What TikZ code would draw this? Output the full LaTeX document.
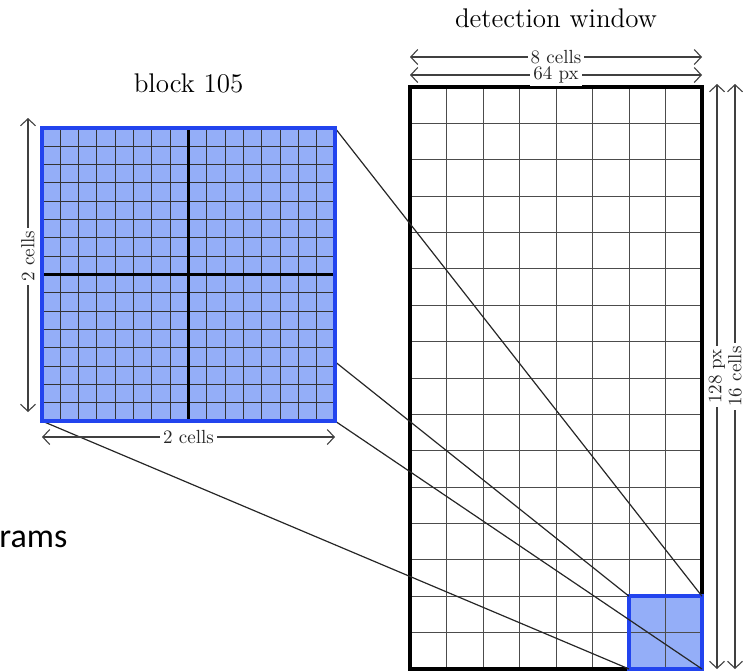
\documentclass[tikz,border=0pt]{standalone}
\usepackage{fontspec}
\newfontfamily\slidefont{Carlito}
\usetikzlibrary{arrows.meta,calc}
\definecolor{cellblue}{HTML}{94AEF8}
\definecolor{edgeblue}{HTML}{2244EE}
\begin{document}
\begin{tikzpicture}[x=0.5pt,y=-0.5pt,
  title/.style={font=\fontsize{13.5}{16}\selectfont},
  dimtext/.style={fill=white,text=black!85,inner sep=1.5pt,font=\fontsize{9.5}{11}\selectfont},
  dim/.style={{Straight Barb[length=3.5pt,width=7.5pt]}-{Straight Barb[length=3.5pt,width=7.5pt]},black!75,line width=0.55pt},
  area/.style={inner sep=0pt,outer sep=0pt},
  thingrid/.style={black!70,line width=0.5pt},
  fine/.style={black!80,line width=0.45pt},
  cross/.style={black,line width=1.3pt},
  blueedge/.style={edgeblue,line width=1.8pt},
  frame/.style={black,line width=1.8pt},
  zoomline/.style={black!85,line width=0.6pt}
]
\useasboundingbox (0,0) rectangle (744,671);

% the three areas
\node[area,minimum size=146.5pt] (block) at (188.5,274.5) {};
\node[area,minimum width=146pt,minimum height=291pt] (win) at (556,378) {};
\node[area,fill=cellblue,minimum width=36.5pt,minimum height=36.375pt] (sub) at (665.5,632.6) {};

% detection window cells
\foreach \i in {1,...,7}
  \draw[thingrid] ($(win.north west)+(\i*36.5,0)$) -- ($(win.south west)+(\i*36.5,0)$);
\foreach \j in {1,...,15}
  \draw[thingrid] ($(win.north west)+(0,\j*36.375)$) -- ($(win.north east)+(0,\j*36.375)$);
\draw[frame] (win.north west) rectangle (win.south east);
\draw[blueedge] (sub.north west) rectangle (sub.south east);

% zoom lines
\draw[zoomline] (block.north west) -- (sub.north west);
\draw[zoomline] (block.north east) -- (sub.north east);
\draw[zoomline] (block.south east) -- (sub.south east);
\draw[zoomline] (block.south west) -- (sub.south west);

% enlarged block
\fill[cellblue] (block.north west) rectangle (block.south east);
\foreach \k in {1,...,15} {
  \draw[fine] ($(block.north west)+(\k*18.3125,0)$) -- ($(block.south west)+(\k*18.3125,0)$);
  \draw[fine] ($(block.north west)+(0,\k*18.3125)$) -- ($(block.north east)+(0,\k*18.3125)$);
}
\draw[cross] (block.north) -- (block.south);
\draw[cross] (block.west) -- (block.east);
\draw[blueedge] (block.north west) rectangle (block.south east);

% titles
\node[title] (blocktitle) at (188.5,83) {block 105};
\node[title] (wintitle) at (556,18) {detection window};

% dimensions
\coordinate (leftup) at (28,118);
\coordinate (leftdown) at (28,412);
\draw[dim] (leftup) -- node[dimtext,rotate=90,pos=0.47] (lefttag) {2 cells} (leftdown);
\draw[dim] ([yshift=-8pt]block.south west) -- node[dimtext] (bottomtag) {2 cells} ([yshift=-8pt]block.south east);
\draw[dim] ([yshift=15pt]win.north west) -- node[dimtext] (celltag) {8 cells} ([yshift=15pt]win.north east);
\draw[dim] ([yshift=6pt]win.north west) -- node[dimtext] (pxtag) {64 px} ([yshift=6pt]win.north east);
\draw[dim] ([xshift=7.5pt,yshift=1.5pt]win.north east) -- node[dimtext,rotate=90] (hpxtag) {128 px} ([xshift=7.5pt]win.south east);
\draw[dim] ([xshift=16.5pt,yshift=1.5pt]win.north east) -- node[dimtext,rotate=90] (hcelltag) {16 cells} ([xshift=16.5pt]win.south east);

% slide text
\node[font=\slidefont\fontsize{17}{20}\selectfont,anchor=base west,inner sep=0pt] (slidetext) at (-1,547) {rams};
\end{tikzpicture}
\end{document}
